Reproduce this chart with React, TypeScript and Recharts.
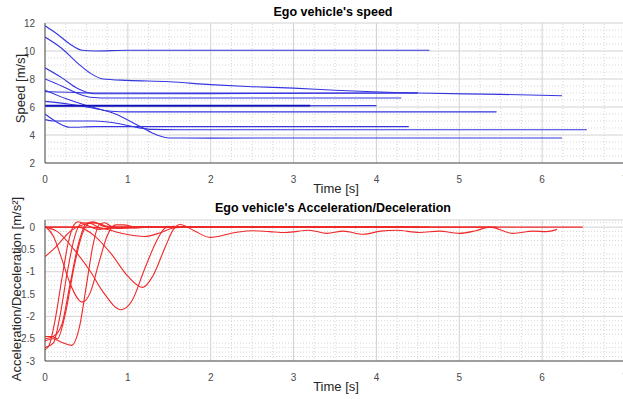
import { LineChart, Line, XAxis, YAxis, CartesianGrid, ReferenceLine } from 'recharts';

type Pt = [number, number];

// speed traces [time s, speed m/s]
const speedA: Pt[] = [[0, 11.8], [0.15, 11.2], [0.3, 10.5], [0.45, 10.05], [0.6, 10.0], [1.0, 10.05], [2, 10.05], [3, 10.05], [4.64, 10.05]];
const speedB: Pt[] = [[0, 11.0], [0.2, 10.2], [0.4, 9.1], [0.55, 8.4], [0.7, 8.0], [1.0, 7.9], [1.5, 7.8], [2.0, 7.6], [2.5, 7.45], [3.0, 7.35], [3.5, 7.2], [4.5, 7.0], [5.5, 6.9], [6.24, 6.8]];
const speedC: Pt[] = [[0, 8.8], [0.2, 8.1], [0.4, 7.3], [0.6, 6.95], [1, 6.95], [4.5, 7.0]];
const speedK: Pt[] = [[0, 7.1], [0.3, 7.05], [0.6, 7.0], [4.5, 7.0]];
const speedD: Pt[] = [[0, 8.0], [0.2, 7.5], [0.4, 6.95], [0.55, 6.7], [0.8, 6.64], [4.3, 6.64]];
const speedJ: Pt[] = [[0, 7.2], [0.25, 6.6], [0.5, 6.1], [0.85, 5.5], [1.15, 4.6], [1.35, 4.0], [1.5, 3.79], [2, 3.78], [6.24, 3.79]];
const speedG: Pt[] = [[0, 6.4], [0.3, 6.2], [0.6, 5.9], [0.8, 5.7], [1.0, 5.65], [5.45, 5.65]];
const speedE: Pt[] = [[0, 6.1], [3.2, 6.1]];
const speedF: Pt[] = [[0, 6.05], [4.0, 6.1]];
const speedH: Pt[] = [[0, 5.5], [0.15, 4.9], [0.3, 4.55], [0.6, 4.6], [4.39, 4.6]];
const speedI: Pt[] = [[0, 5.1], [0.1, 5.0], [0.6, 5.0], [0.9, 4.8], [1.1, 4.55], [1.3, 4.4], [1.6, 4.38], [6.54, 4.38]];

// acceleration traces [time s, accel m/s^2]
const accS1: Pt[] = [[0, -2.75], [0.05, -2.65], [0.12, -2.1], [0.2, -1.2], [0.28, -0.35], [0.35, 0.05], [0.4, 0.12], [0.5, 0.05], [0.65, -0.05], [0.9, 0], [4.64, 0]];
const accS2: Pt[] = [[0, -2.7], [0.1, -2.6], [0.18, -2.0], [0.27, -1.0], [0.36, -0.2], [0.45, 0.1], [0.55, 0.08], [0.7, -0.03], [1.0, 0], [4.3, 0]];
const accS3: Pt[] = [[0, -2.5], [0.1, -2.45], [0.2, -2.2], [0.3, -1.3], [0.4, -0.4], [0.5, 0.08], [0.58, 0.12], [0.7, 0.02], [0.9, -0.03], [1.2, 0], [4.5, 0]];
const accS4: Pt[] = [[0, -2.45], [0.08, -2.45], [0.15, -2.5], [0.25, -1.9], [0.35, -0.9], [0.45, -0.15], [0.55, 0.1], [0.65, 0.08], [0.8, -0.02], [1.1, 0], [4.0, 0]];
const accS5: Pt[] = [[0, -2.55], [0.1, -2.5], [0.2, -2.58], [0.32, -2.65], [0.42, -2.2], [0.5, -1.3], [0.58, -0.4], [0.65, 0.05], [0.72, 0.1], [0.8, 0.02], [1.0, -0.02], [1.3, 0], [5.45, 0]];
const accM07: Pt[] = [[0, -0.66], [0.1, -0.5], [0.2, -0.3], [0.3, -0.1], [0.45, 0.05], [0.6, 0.1], [0.75, 0.02], [1.0, 0], [3.2, 0]];
const accM17: Pt[] = [[0, 0.02], [0.1, -0.2], [0.2, -0.7], [0.3, -1.25], [0.45, -1.68], [0.55, -1.45], [0.65, -0.8], [0.75, -0.2], [0.85, 0.05], [0.95, 0.05], [1.1, 0], [4.39, 0]];
const accM185: Pt[] = [[0, 0], [0.15, -0.1], [0.35, -0.5], [0.55, -1.0], [0.7, -1.45], [0.92, -1.85], [1.05, -1.65], [1.2, -0.95], [1.35, -0.3], [1.45, -0.02], [1.55, 0.02], [1.7, 0], [4.5, 0]];
const accShallow: Pt[] = [[0, 0], [0.5, 0], [0.7, -0.03], [0.95, -0.15], [1.2, -0.21], [1.4, -0.12], [1.55, -0.02], [1.7, 0], [3, 0], [6.49, 0]];
const accWavy: Pt[] = [[0, 0], [0.4, 0], [0.6, -0.2], [0.8, -0.6], [1.0, -1.1], [1.18, -1.35], [1.3, -1.1], [1.45, -0.45], [1.55, -0.05], [1.63, 0.06], [1.8, -0.08], [1.99, -0.23], [2.3, -0.12], [2.5, -0.08], [2.71, -0.1], [2.9, -0.12], [3.19, -0.07], [3.4, -0.14], [3.6, -0.09], [3.84, -0.16], [4.05, -0.09], [4.24, -0.07], [4.52, -0.12], [4.76, -0.09], [5.0, -0.14], [5.2, -0.08], [5.37, 0], [5.65, -0.14], [5.89, -0.09], [6.05, -0.1], [6.18, -0.05]];

const speedSeries = [speedA, speedB, speedC, speedK, speedD, speedJ, speedG, speedF, speedH, speedI];
const accSeries = [accS1, accS2, accS3, accS4, accS5, accM07, accM17, accM185, accShallow, accWavy];

const xTicks = [0, 1, 2, 3, 4, 5, 6, 7];
const speedTicks = [2, 4, 6, 8, 10, 12];
const accTicks = [-3, -2.5, -2, -1.5, -1, -0.5, 0];

const font = '"Liberation Sans", Arial, sans-serif';

function minors(lo: number, hi: number, step: number, major: number) {
  const out: number[] = [];
  for (let i = 0; lo + i * step <= hi + 1e-9; i++) {
    const v = +(lo + i * step).toFixed(4);
    if (Math.abs(v / major - Math.round(v / major)) > 1e-6) out.push(v);
  }
  return out;
}

const toData = (s: Pt[]) => s.map(([t, v]) => ({ t, v }));

const tickStyle = { fontSize: 10, fill: '#4a4a4a', fontFamily: font };

function Panel({ series, color, domain, yTicks, yMinor, top, height, marginTop, xAxisH, dark }: any) {
  return (
    <div style={{ position: 'absolute', left: 0, top }}>
      <LineChart width={640} height={height} margin={{ top: marginTop, right: 15, bottom: 0, left: 0 }}>
        {minors(0, 7, 0.25, 1).map((x) => (
          <ReferenceLine key={'x' + x} x={x} stroke="#d6d6d6" strokeDasharray="1 2" />
        ))}
        {yMinor.map((y: number) => (
          <ReferenceLine key={'y' + y} y={y} stroke="#d6d6d6" strokeDasharray="1 2" />
        ))}
        <CartesianGrid stroke="#d2d2d2" />
        <XAxis
          type="number"
          dataKey="t"
          domain={[0, 7]}
          ticks={xTicks}
          allowDataOverflow
          height={xAxisH}
          tickLine={false}
          tickMargin={7}
          stroke="#555"
          tick={tickStyle}
        />
        <YAxis
          type="number"
          domain={domain}
          ticks={yTicks}
          allowDataOverflow
          width={45}
          tickLine={false}
          tickMargin={4}
          stroke="#555"
          tick={tickStyle}
        />
        {series.map((s: Pt[], i: number) => (
          <Line
            key={i}
            data={toData(s)}
            dataKey="v"
            type="monotone"
            stroke={color}
            strokeWidth={1.1}
            dot={false}
            isAnimationActive={false}
          />
        ))}
        {dark && (
          <Line data={toData(dark)} dataKey="v" type="monotone" stroke="#1010b8" strokeWidth={1.8} dot={false} isAnimationActive={false} />
        )}
      </LineChart>
    </div>
  );
}

export default function App() {
  return (
    <div style={{ position: 'absolute', left: 0, top: 0, width: 623, height: 399, overflow: 'hidden', background: '#fff' }}>
      <Panel
        series={speedSeries}
        dark={speedE}
        color="#3535e0"
        domain={[2, 12]}
        yTicks={speedTicks}
        yMinor={minors(2, 12, 0.5, 2)}
        top={0}
        height={200}
        marginTop={23}
        xAxisH={37}
      />
      <Panel
        series={accSeries}
        color="#f02828"
        domain={[-3, 0.16]}
        yTicks={accTicks}
        yMinor={minors(-3, 0.1, 0.1, 0.5)}
        top={200}
        height={199}
        marginTop={20}
        xAxisH={38}
      />
      <svg width={623} height={399} style={{ position: 'absolute', left: 0, top: 0, pointerEvents: 'none' }}>
        <text x={333} y={16} textAnchor="middle" fontFamily={font} fontSize={12.5} fontWeight="bold" fill="#000">
          Ego vehicle's speed
        </text>
        <text x={336} y={193} textAnchor="middle" fontFamily={font} fontSize={13} fill="#262626">
          Time [s]
        </text>
        <text transform="translate(25,88.5) rotate(-90)" textAnchor="middle" fontFamily={font} fontSize={13} fill="#262626">
          Speed [m/s]
        </text>
        <text x={333} y={212} textAnchor="middle" fontFamily={font} fontSize={12.5} fontWeight="bold" fill="#000">
          Ego vehicle's Acceleration/Deceleration
        </text>
        <text x={336} y={391} textAnchor="middle" fontFamily={font} fontSize={13} fill="#262626">
          Time [s]
        </text>
        <text transform="translate(21,289) rotate(-90)" textAnchor="middle" fontFamily={font} fontSize={13} fill="#262626">
          Acceleration/Deceleration [m/s²]
        </text>
      </svg>
    </div>
  );
}
